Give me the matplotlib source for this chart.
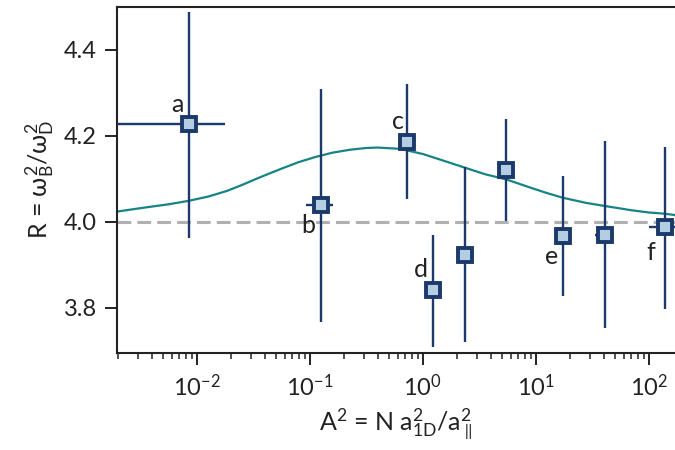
import matplotlib
matplotlib.use("Agg")
import matplotlib.pyplot as plt
import numpy as np

# ---- data ----
labels = ["a", "b", "c", "d", "", "", "e", "", "f"]
A2 = [0.00843, 0.126, 0.731, 1.24, 2.37, 5.46, 17.3, 41.0, 140.0]
R = [4.227, 4.039, 4.187, 3.842, 3.923, 4.121, 3.968, 3.970, 3.987]
R_lo = [3.963, 3.768, 4.053, 3.710, 3.720, 4.001, 3.828, 3.753, 3.797]
R_hi = [4.489, 4.309, 4.321, 3.970, 4.127, 4.240, 4.107, 4.189, 4.175]
A2_err = [0.0094, 0.033, 0.0, 0.0, 0.0, 0.0, 0.0, 7.6, 40.0]

curve_x = [0.00196, 0.00316, 0.00562, 0.00843, 0.0126, 0.0184, 0.0251,
           0.0363, 0.0562, 0.0794, 0.112, 0.158, 0.228, 0.316, 0.398,
           0.631, 1.0, 1.585, 2.37, 3.55, 5.46, 8.91, 12.6, 17.5, 28.2,
           41.0, 70.8, 100.0, 139.0, 171.0]
curve_R = [4.024, 4.032, 4.041, 4.049, 4.059, 4.072, 4.086,
           4.104, 4.124, 4.139, 4.151, 4.161, 4.168, 4.172, 4.173,
           4.170, 4.158, 4.141, 4.126, 4.111, 4.099, 4.080, 4.067, 4.056, 4.044,
           4.037, 4.027, 4.022, 4.019, 4.016]

R_ref = 4.0
xlim = (0.00196, 171)
ylim = (3.695, 4.5)
yticks = [3.8, 4.0, 4.2, 4.4]

# label offsets in pixels (dx, dy) relative to the marker
label_offsets = {"a": (-11, 20), "b": (-13, -20), "c": (-10, 20),
                 "d": (-12, 20), "e": (-11, -21), "f": (-14, -25)}

plt.rcParams['font.family'] = ['Lato', 'DejaVu Sans']
plt.rcParams['mathtext.fontset'] = 'custom'
plt.rcParams['mathtext.rm'] = 'Lato'
plt.rcParams['mathtext.it'] = 'Lato'
plt.rcParams['mathtext.bf'] = 'Lato:bold'

navy = "#1b3a6b"
face = "#b3cde3"
teal = "#168384"
gray = "#b0b0b0"
spinec = "#222222"

fig = plt.figure(figsize=(6.75, 4.5), dpi=100)
ax = fig.add_axes([117/675, 1 - 353/450, 1 - 117/675, (353 - 7)/450])

ax.axhline(R_ref, color=gray, lw=2.2, dashes=(4.5, 2), zorder=1)
ax.plot(curve_x, curve_R, color=teal, lw=1.6, zorder=2)

A2a = np.array(A2)
Ra = np.array(R)
yerr = np.vstack([Ra - np.array(R_lo), np.array(R_hi) - Ra])
ax.errorbar(A2a, Ra, yerr=yerr, xerr=A2_err, fmt='s', ms=9.5, mew=2.8,
            mec=navy, mfc=face, ecolor=navy, elinewidth=1.7, capsize=0,
            zorder=3)

for xi, yi, lab in zip(A2, R, labels):
    if lab:
        dx, dy = label_offsets[lab]
        ax.annotate(lab, (xi, yi), xytext=(dx, dy), textcoords='offset pixels',
                    ha='center', va='center', fontsize=18, color='#222222')

ax.set_xscale('log')
ax.set_xlim(*xlim)
ax.set_ylim(*ylim)
ax.set_yticks(yticks)
ax.set_yticklabels([f"{t:.1f}" for t in yticks])

for s in ['left', 'bottom', 'top']:
    ax.spines[s].set_linewidth(1.5)
    ax.spines[s].set_color(spinec)
ax.spines['right'].set_visible(False)

ax.tick_params(axis='both', which='major', length=8.5, width=1.4,
               color=spinec, labelsize=17, labelcolor='#222222', pad=6)
ax.tick_params(axis='x', which='minor', length=4, width=1.1, color=spinec)
ax.tick_params(axis='y', which='minor', left=False)

ax.set_ylabel(r'R = $\omega_\mathrm{B}^2/\omega_\mathrm{D}^2$', fontsize=18,
              color='#222222', labelpad=5)
ax.set_xlabel(r'A$^2$ = N a$_\mathrm{1D}^2$/a$_\parallel^2$', fontsize=18,
              color='#222222', labelpad=5)

fig.savefig("out.png", dpi=100)
